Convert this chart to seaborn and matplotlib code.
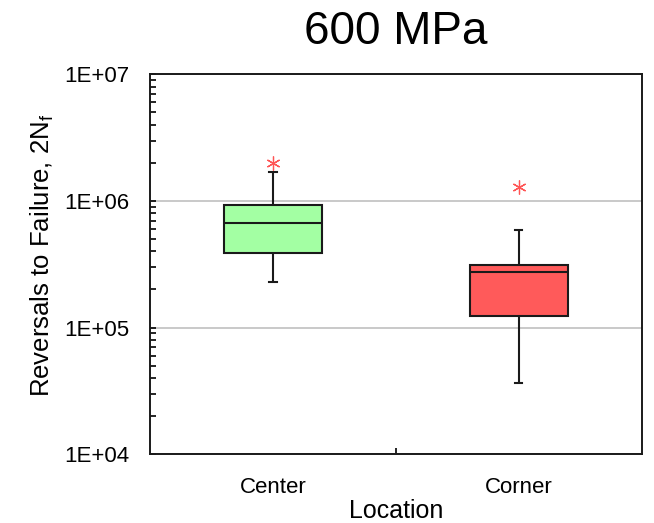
import numpy as np
import pandas as pd
import matplotlib
matplotlib.use("Agg")
import matplotlib.pyplot as plt
import seaborn as sns
from matplotlib.ticker import LogLocator, FuncFormatter, NullFormatter, FixedLocator

plt.rcParams['font.family'] = ['Liberation Sans', 'DejaVu Sans']

# box summary (reversals to failure, 600 MPa)
locations = ['Center', 'Corner']
whisker_low = [2.28e5, 3.68e4]
q1 = [3.86e5, 1.24e5]
median = [6.70e5, 2.74e5]
q3 = [9.25e5, 3.14e5]
whisker_high = [1.70e6, 5.90e5]
outlier = [2.0e6, 1.28e6]
colors = ['#A3FFA3', '#FF5A5A']

# build sample sets that reproduce these statistics (9 points -> exact quartiles)
rows = []
for i, loc in enumerate(locations):
    vals = [whisker_low[i], q1[i], q1[i], median[i], median[i],
            q3[i], q3[i], whisker_high[i], outlier[i]]
    for v in vals:
        rows.append({'Location': loc, 'Reversals': v})
df = pd.DataFrame(rows)

fig = plt.figure(figsize=(6.54, 5.23), dpi=100)
ax = fig.add_axes([0.2294, 0.1314, 0.9812 - 0.2294, 0.8579 - 0.1314])

sns.boxplot(data=df, x='Location', y='Reversals', hue='Location',
            palette=colors, saturation=1, legend=False, width=0.4, whis=1.5,
            linecolor='#1a1a1a', linewidth=1.5, capwidths=0.03,
            flierprops=dict(marker=(6, 2, 0), markersize=10,
                            markeredgecolor='#FF5555', markeredgewidth=0.9),
            ax=ax)

ax.set_yscale('log')
ax.set_ylim(1e4, 1e7)
ax.set_xlim(-0.5, 1.5)

ax.yaxis.set_major_locator(LogLocator(base=10, numticks=10))
ax.yaxis.set_minor_locator(LogLocator(base=10, subs=np.arange(2, 10), numticks=10))
ax.yaxis.set_major_formatter(FuncFormatter(lambda v, p: f"{v:.0E}"))
ax.yaxis.set_minor_formatter(NullFormatter())
ax.tick_params(axis='y', which='both', direction='in', length=4, width=1.2,
               labelsize=16, pad=15, right=False)

ax.xaxis.set_minor_locator(FixedLocator([0.5]))
ax.tick_params(axis='x', which='major', length=0, labelsize=16, pad=16)
ax.tick_params(axis='x', which='minor', direction='in', length=4, width=1.2,
               top=False)

ax.yaxis.grid(True, which='major', color='#C0C0C0', linewidth=1.2)
ax.set_axisbelow(True)

for sp in ax.spines.values():
    sp.set_linewidth(1.4)
    sp.set_color('#1a1a1a')

ax.set_xlabel('Location', fontsize=18, labelpad=1)
ax.set_ylabel('Reversals to Failure, 2N$_\\mathregular{f}$', fontsize=18.5)
ax.yaxis.set_label_coords(-0.191, 0.525)
ax.set_title('600 MPa', fontsize=33, pad=22)

fig.savefig('out.png', dpi=100)
